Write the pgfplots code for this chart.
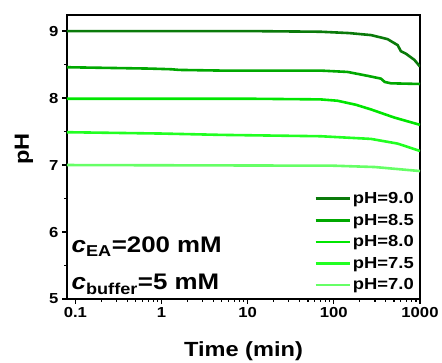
\documentclass[border=0pt]{standalone}
\usepackage{pgfplots}
\pgfplotsset{compat=1.18}
\usepackage{fontspec}
\setmainfont{Liberation Sans}[FakeStretch=1.15]
\definecolor{c90}{RGB}{10,122,10}
\definecolor{c85}{RGB}{0,168,0}
\definecolor{c80}{RGB}{0,230,0}
\definecolor{c75}{RGB}{34,255,34}
\definecolor{c70}{RGB}{102,255,102}
\begin{document}
\begin{tikzpicture}
\path[use as bounding box] (-67pt,-64pt) rectangle (375pt,299pt);
\begin{axis}[
  at={(0pt,0pt)}, anchor=south west,
  scale only axis, width=353pt, height=284pt,
  xmode=log, xmin=0.08, xmax=1000,
  ymin=5, ymax=9.24,
  xtick={0.1,1,10,100,1000},
  xticklabels={0.1,1,10,100,1000},
  ytick={5,6,7,8,9},
  minor y tick num=1,
  tick pos=left, tick align=outside,
  major tick length=5pt, minor tick length=3pt,
  every tick/.style={black, line width=1.2pt},
  axis line style={line width=1.3pt},
  /pgf/number format/assume math mode=true,
  ticklabel style={font=\bfseries\fontsize{14.5}{16}\selectfont},
  xlabel={\bfseries Time (min)}, ylabel={\bfseries pH},
  label style={font=\bfseries\fontsize{20.5}{22}\selectfont},
  xlabel style={at={(rel axis cs:0.5,0)}, anchor=base, yshift=-58pt},
  ylabel style={at={(rel axis cs:0,0.528)}, anchor=base, yshift=38pt},
  legend style={draw=none, fill=none, at={(rel axis cs:0.997,0.012)}, anchor=south east,
    font=\bfseries\fontsize{16}{18}\selectfont, row sep=5pt},
  legend cell align=left,
  legend image code/.code={\draw[#1, line width=2.6pt] (0pt,0pt) -- (34pt,0pt);},
  every axis plot/.append style={line width=2.6pt},
]
\addplot[c90] coordinates {(0.08,9.0)(1,9.0)(10,9.0)(70,8.99)(150,8.97)(270,8.94)(420,8.88)(550,8.79)(600,8.70)(690,8.66)(860,8.57)(1000,8.47)};
\addlegendentry{pH=9.0}
\addplot[c85] coordinates {(0.08,8.46)(0.72,8.44)(1.3,8.43)(1.6,8.42)(5,8.41)(70,8.41)(144,8.39)(250,8.33)(352,8.29)(390,8.24)(460,8.22)(1000,8.21)};
\addlegendentry{pH=8.5}
\addplot[c80] coordinates {(0.08,7.99)(10,7.99)(70,7.98)(110,7.96)(180,7.90)(270,7.83)(500,7.71)(1000,7.60)};
\addlegendentry{pH=8.0}
\addplot[c75] coordinates {(0.08,7.49)(1,7.47)(5,7.45)(70,7.43)(270,7.39)(550,7.32)(1000,7.21)};
\addlegendentry{pH=7.5}
\addplot[c70] coordinates {(0.08,7.0)(100,6.99)(300,6.97)(1000,6.91)};
\addlegendentry{pH=7.0}
\node[anchor=base west, inner sep=0pt, font=\bfseries\fontsize{22.5}{24}\selectfont] at (rel axis cs:0.0128,0.162) {\textit{c}\textsubscript{EA}=200 mM};
\node[anchor=base west, inner sep=0pt, font=\bfseries\fontsize{22.5}{24}\selectfont] at (rel axis cs:0.0128,0.032) {\textit{c}\textsubscript{buffer}=5 mM};
\end{axis}
\end{tikzpicture}
\end{document}
